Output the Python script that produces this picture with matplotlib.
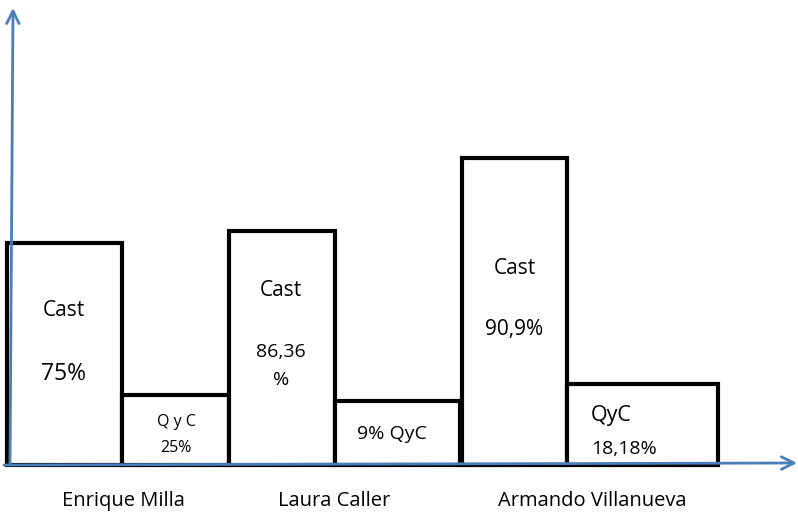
import matplotlib.pyplot as plt

plt.rcParams['font.family'] = ['Open Sans', 'DejaVu Sans']

# data (heights in chart units above the baseline)
people = ['Enrique Milla', 'Laura Caller', 'Armando Villanueva']
cast_vals = [222, 234, 307]
qyc_vals = [70, 64, 81]

# layout (left edge, width) for each bar
cast_pos = [(7, 115), (229, 106), (462, 105)]
qyc_pos = [(122, 107), (335, 125), (567, 151)]
label_x = [123, 334, 592]

blue = '#4a7ebb'

fig = plt.figure(figsize=(7.98, 5.13), dpi=100)
ax = fig.add_axes([0, 0, 1, 1])
ax.set_xlim(0, 798)
ax.set_ylim(-48, 465)
ax.axis('off')

for i in range(3):
    ax.bar(cast_pos[i][0], cast_vals[i], width=cast_pos[i][1], align='edge',
           color='white', edgecolor='black', linewidth=3, zorder=2)
    ax.bar(qyc_pos[i][0], qyc_vals[i], width=qyc_pos[i][1], align='edge',
           color='white', edgecolor='black', linewidth=3, zorder=2)

# texts inside bars
ax.text(64, 155, 'Cast', ha='center', va='center', fontsize=15)
ax.text(64, 91, '75%', ha='center', va='center', fontsize=16.5)
ax.text(176, 43, 'Q y C', ha='center', va='center', fontsize=11.5)
ax.text(176, 17, '25%', ha='center', va='center', fontsize=11.5)
ax.text(281, 174, 'Cast', ha='center', va='center', fontsize=15)
ax.text(281, 113, '86,36', ha='center', va='center', fontsize=14)
ax.text(281, 85, '%', ha='center', va='center', fontsize=14)
ax.text(392, 31, '9% QyC', ha='center', va='center', fontsize=14)
ax.text(515, 196, 'Cast', ha='center', va='center', fontsize=15)
ax.text(514, 135, '90,9%', ha='center', va='center', fontsize=15)
ax.text(591, 50, 'QyC', ha='left', va='center', fontsize=15.5)
ax.text(591, 16, '18,18%', ha='left', va='center', fontsize=14)

for name, x in zip(people, label_x):
    ax.text(x, -36, name, ha='center', va='center', fontsize=14.5)

# axes arrows
ax.annotate('', xy=(797, 2), xytext=(4, 0),
            arrowprops=dict(arrowstyle='->,head_length=0.9,head_width=0.45',
                            color=blue, lw=2, shrinkA=0, shrinkB=0), zorder=3)
ax.annotate('', xy=(13, 457), xytext=(10, 0),
            arrowprops=dict(arrowstyle='->,head_length=0.9,head_width=0.45',
                            color=blue, lw=2, shrinkA=0, shrinkB=0), zorder=3)

fig.savefig('out.png', dpi=100)
